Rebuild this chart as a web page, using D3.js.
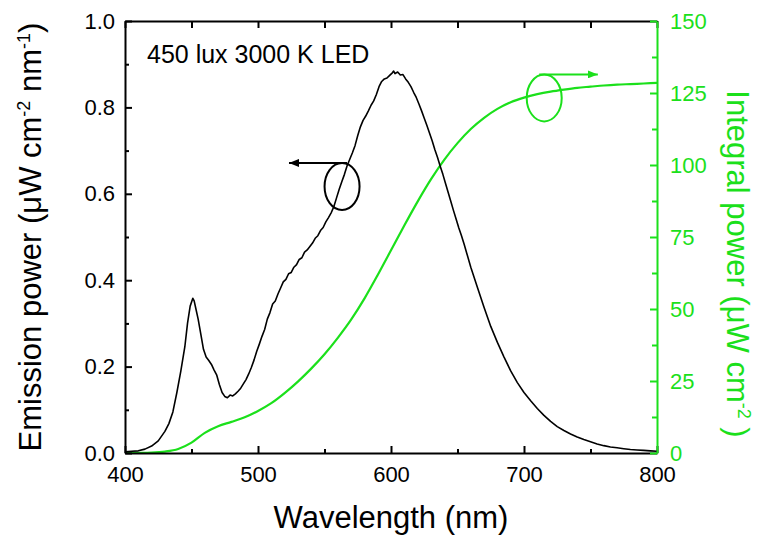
<!DOCTYPE html>
<html>
<head>
<meta charset="utf-8">
<script src="https://cdn.jsdelivr.net/npm/d3@7"></script>
<style>
  html, body { margin: 0; padding: 0; background: #fff; }
  svg { display: block; font-family: "Liberation Sans", Arial, sans-serif; }
</style>
</head>
<body>
<svg id="chart" width="762" height="537"></svg>
<script>
// ---------------- data ----------------
const emWavelength = [400,405,410,415,420,425,430,433,436,439,442,445,447,449,451,452,453,455,457,459,461,463,465,467,469,471,473,475,477,479,481,483,485,487,489,491,493,495,497,499,501,503,505,507,509,511,513,515,517,519,521,523,525,527,529,531,533,535,537,539,541,543,545,547,549,551,553,555,557,559,561,563,565,567,569,571,573,575,577,579,581,583,585,587,589,591,593,595,597,599,601,602,603,605,607,609,611,613,615,617,619,621,623,625,627,629,631,633,635,637,639,641,643,645,647,649,651,653,655,657,660,665,670,675,680,685,690,695,700,705,710,715,720,725,730,735,740,745,750,755,760,765,770,775,780,785,790,795,800];
const emPower = [0.003,0.004,0.005,0.009,0.016,0.028,0.050,0.068,0.095,0.140,0.190,0.246,0.300,0.340,0.358,0.352,0.338,0.310,0.275,0.240,0.222,0.214,0.205,0.192,0.180,0.158,0.140,0.131,0.128,0.134,0.132,0.137,0.143,0.150,0.160,0.170,0.183,0.198,0.215,0.235,0.252,0.270,0.286,0.310,0.325,0.345,0.352,0.368,0.382,0.396,0.402,0.415,0.418,0.430,0.436,0.448,0.452,0.465,0.470,0.478,0.486,0.497,0.503,0.515,0.522,0.535,0.545,0.556,0.570,0.590,0.610,0.628,0.645,0.665,0.680,0.695,0.712,0.735,0.755,0.770,0.780,0.792,0.805,0.815,0.830,0.848,0.860,0.866,0.868,0.874,0.880,0.884,0.878,0.882,0.875,0.876,0.866,0.858,0.848,0.835,0.823,0.808,0.792,0.775,0.758,0.740,0.722,0.702,0.684,0.664,0.645,0.624,0.603,0.582,0.561,0.541,0.521,0.503,0.483,0.462,0.430,0.383,0.337,0.293,0.256,0.222,0.190,0.163,0.140,0.121,0.103,0.087,0.073,0.061,0.052,0.044,0.037,0.031,0.026,0.021,0.017,0.014,0.012,0.010,0.008,0.007,0.006,0.005,0.004];

const intWavelength = [400,410,420,430,440,450,460,470,480,490,500,510,520,530,540,550,560,570,580,590,600,610,620,630,640,650,660,670,680,690,700,710,720,730,740,750,760,770,780,790,800];
const intPower = [0,0.05,0.15,0.5,1.4,3.6,7.0,9.3,10.8,12.4,14.6,17.3,20.8,24.8,29.3,34.3,40.0,46.3,53.6,61.8,70.4,79.0,87.3,95.0,101.8,107.6,112.5,116.4,119.5,121.8,123.4,124.6,125.5,126.2,126.8,127.2,127.6,127.9,128.1,128.3,128.5];

const xTicks = [400,500,600,700,800];
const yLeftTicks = [0.0,0.2,0.4,0.6,0.8,1.0];
const yRightTicks = [0,25,50,75,100,125,150];
const annotationText = "450 lux 3000 K LED";

// annotation marks (data coordinates)
const leftMarker  = { cx: 563.2, cy: 0.617, arrowTo: 523.3 };   // points to emission axis
const rightMarker = { cx: 715.2, cy: 123.3, arrowTo: 755.5 };   // points to integral axis

// ---------------- layout ----------------
const GREEN = "#1be01b";
const svg = d3.select("#chart");
const L = 125, R = 657, T = 21, B = 453;

const x = d3.scaleLinear().domain([400, 800]).range([L, R]);
const yL = d3.scaleLinear().domain([0, 1.0]).range([B, T]);
const yR = d3.scaleLinear().domain([0, 150]).range([B, T]);

// ---------------- curves ----------------
const emData = emWavelength.map((w, i) => [w, emPower[i]]);
const intData = intWavelength.map((w, i) => [w, intPower[i]]);

svg.append("path")
  .datum(intData)
  .attr("fill", "none")
  .attr("stroke", GREEN)
  .attr("stroke-width", 2.2)
  .attr("d", d3.line().x(d => x(d[0])).y(d => yR(d[1])).curve(d3.curveMonotoneX));

svg.append("path")
  .datum(emData)
  .attr("fill", "none")
  .attr("stroke", "#000")
  .attr("stroke-width", 1.6)
  .attr("stroke-linejoin", "round")
  .attr("d", d3.line().x(d => x(d[0])).y(d => yL(d[1])));

// ---------------- axes ----------------
function styleAxis(g, color) {
  g.select(".domain").attr("stroke", color).attr("stroke-width", 2);
  g.selectAll(".tick line").attr("stroke", color).attr("stroke-width", 2);
  g.selectAll(".tick text").attr("fill", color)
    .style("font-family", '"Liberation Sans", Arial, sans-serif')
    .style("font-size", "22px");
}

// bottom minor
svg.append("g").attr("transform", `translate(0,${B})`)
  .call(d3.axisBottom(x).tickValues(d3.range(450, 800, 100)).tickSize(-4).tickFormat(""))
  .call(g => { g.select(".domain").remove(); g.selectAll(".tick line").attr("stroke", "#000").attr("stroke-width", 2); });
// top ticks
svg.append("g").attr("transform", `translate(0,${T})`)
  .call(d3.axisTop(x).tickValues(d3.range(400, 801, 50)).tickSize(-7).tickSizeOuter(0).tickFormat(""))
  .call(g => styleAxis(g, "#000"));
// bottom major
svg.append("g").attr("transform", `translate(0,${B})`)
  .call(d3.axisBottom(x).tickValues(xTicks).tickSize(-7).tickSizeOuter(0).tickPadding(13).tickFormat(d3.format("d")))
  .call(g => styleAxis(g, "#000"));

// left minor
svg.append("g").attr("transform", `translate(${L},0)`)
  .call(d3.axisLeft(yL).tickValues(d3.range(0.1, 1.0, 0.2)).tickSize(-4).tickFormat(""))
  .call(g => { g.select(".domain").remove(); g.selectAll(".tick line").attr("stroke", "#000").attr("stroke-width", 2); });
// left major
svg.append("g").attr("transform", `translate(${L},0)`)
  .call(d3.axisLeft(yL).tickValues(yLeftTicks).tickSize(-7).tickSizeOuter(0).tickPadding(10).tickFormat(d3.format(".1f")))
  .call(g => styleAxis(g, "#000"));

// right minor
svg.append("g").attr("transform", `translate(${R},0)`)
  .call(d3.axisRight(yR).tickValues(d3.range(12.5, 150, 25)).tickSize(-5).tickFormat(""))
  .call(g => { g.select(".domain").remove(); g.selectAll(".tick line").attr("stroke", GREEN).attr("stroke-width", 2); });
// right major
svg.append("g").attr("transform", `translate(${R},0)`)
  .call(d3.axisRight(yR).tickValues(yRightTicks).tickSize(-7).tickSizeOuter(0).tickPadding(13).tickFormat(d3.format("d")))
  .call(g => styleAxis(g, GREEN));

// ---------------- titles ----------------
svg.append("text")
  .attr("x", 391).attr("y", 528)
  .attr("text-anchor", "middle")
  .style("font-size", "31px")
  .attr("fill", "#000")
  .text("Wavelength (nm)");

const lt = svg.append("text")
  .attr("transform", "translate(41,237) rotate(-90)")
  .attr("text-anchor", "middle")
  .style("font-size", "31px")
  .attr("fill", "#000");
lt.append("tspan").text("Emission power (\u03bcW cm");
lt.append("tspan").attr("dy", -11).style("font-size", "18px").text("-2");
lt.append("tspan").attr("dy", 11).text(" nm");
lt.append("tspan").attr("dy", -11).style("font-size", "18px").text("-1");
lt.append("tspan").attr("dy", 11).text(")");

const rt = svg.append("text")
  .attr("transform", "translate(727,264) rotate(90)")
  .attr("text-anchor", "middle")
  .style("font-size", "31px")
  .attr("fill", GREEN);
rt.append("tspan").text("Integral power (\u03bcW cm");
rt.append("tspan").attr("dy", -11).style("font-size", "18px").text("-2");
rt.append("tspan").attr("dy", 11).text(" )");

svg.append("text")
  .attr("x", 147).attr("y", 63)
  .style("font-size", "25px")
  .attr("fill", "#000")
  .text(annotationText);

// ---------------- markers ----------------
const defs = svg.append("defs");
function arrowHead(id, color) {
  defs.append("marker")
    .attr("id", id).attr("viewBox", "0 0 10 8")
    .attr("refX", 10).attr("refY", 4)
    .attr("markerWidth", 10).attr("markerHeight", 8)
    .attr("markerUnits", "userSpaceOnUse")
    .attr("orient", "auto")
    .append("path").attr("d", "M0,0 L10,4 L0,8 Z").attr("fill", color);
}
arrowHead("ahBlack", "#000");
arrowHead("ahGreen", GREEN);

function drawMarker(m, yScale, color, markerId, dir) {
  const cx = x(m.cx), cy = yScale(m.cy);
  const rx = 17.5, ry = 23.5;
  svg.append("ellipse")
    .attr("cx", cx).attr("cy", cy).attr("rx", rx).attr("ry", ry)
    .attr("fill", "none").attr("stroke", color).attr("stroke-width", 2);
  const startX = cx + dir * 5;
  svg.append("line")
    .attr("x1", startX).attr("y1", cy - ry)
    .attr("x2", x(m.arrowTo)).attr("y2", cy - ry)
    .attr("stroke", color).attr("stroke-width", 2)
    .attr("marker-end", `url(#${markerId})`);
}
drawMarker(leftMarker, yL, "#000", "ahBlack", 1);
drawMarker(rightMarker, yR, GREEN, "ahGreen", -1);
</script>
</body>
</html>
